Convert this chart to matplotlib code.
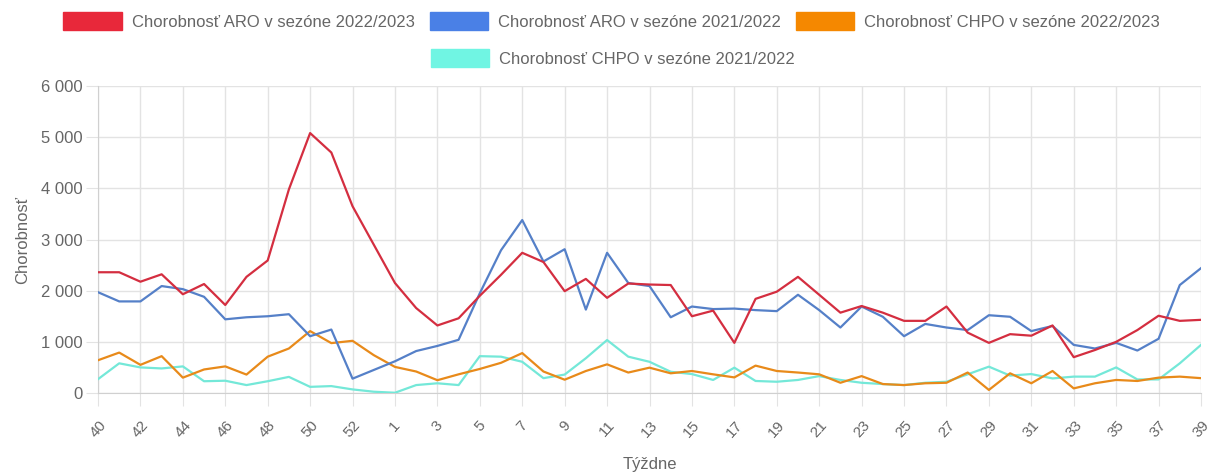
import matplotlib
matplotlib.use('Agg')
import matplotlib.pyplot as plt
from matplotlib.patches import Patch
from matplotlib.ticker import FuncFormatter

plt.rcParams['font.family'] = ['Liberation Sans', 'DejaVu Sans']

# týždne sezóny (40 .. 53, 1 .. 39)
weeks = [str(w) for w in list(range(40, 54)) + list(range(1, 40))]

aro_2223 = [2360, 2360, 2175, 2320, 1930, 2130, 1720, 2270, 2590, 3980,
            5080, 4700, 3650, 2900, 2150, 1660, 1320, 1460, 1900, 2310,
            2740, 2560, 1990, 2230, 1860, 2140, 2120, 2110, 1500, 1610,
            980, 1840, 1980, 2270, 1920, 1570, 1700, 1570, 1410, 1410,
            1690, 1180, 980, 1150, 1120, 1320, 700, 840, 1000, 1230,
            1510, 1410, 1430]
aro_2122 = [1970, 1790, 1790, 2090, 2030, 1880, 1440, 1480, 1500, 1540,
            1110, 1240, 280, 450, 620, 820, 920, 1040, 1950, 2790,
            3380, 2570, 2810, 1630, 2740, 2150, 2090, 1480, 1690, 1640,
            1650, 1620, 1600, 1920, 1620, 1280, 1690, 1490, 1110, 1350,
            1280, 1230, 1520, 1490, 1210, 1310, 940, 870, 980, 830,
            1060, 2110, 2440]
chpo_2223 = [640, 790, 550, 720, 300, 460, 520, 360, 710, 870,
             1210, 975, 1020, 740, 510, 420, 250, 365, 470, 590,
             780, 420, 260, 430, 560, 400, 495, 385, 430, 365,
             305, 535, 430, 400, 365, 200, 330, 175, 155, 190,
             200, 400, 60, 385, 190, 430, 90, 190, 255, 235,
             300, 320, 290]
chpo_2122 = [270, 580, 500, 480, 520, 230, 240, 155, 230, 315,
             120, 135, 70, 25, 5, 155, 190, 155, 720, 710,
             610, 290, 360, 680, 1035, 710, 610, 415, 370, 255,
             495, 235, 220, 255, 330, 255, 200, 175, 155, 200,
             220, 365, 515, 340, 370, 285, 320, 320, 500, 265,
             265, 580, 940]

labels = ['Chorobnosť ARO v sezóne 2022/2023',
          'Chorobnosť ARO v sezóne 2021/2022',
          'Chorobnosť CHPO v sezóne 2022/2023',
          'Chorobnosť CHPO v sezóne 2021/2022']
line_colors = ['#d42e40', '#5580c8', '#e88a1a', '#74e8d8']
box_colors = ['#e8283a', '#4a80e6', '#f58800', '#70f5e3']
series = [aro_2223, aro_2122, chpo_2223, chpo_2122]

text_c = '#666666'
grid_c = '#e3e3e3'

fig = plt.figure(figsize=(12.11, 4.74), dpi=100)
ax = fig.add_axes([98 / 1211, 1 - 393 / 474, (1201 - 98) / 1211, (393 - 86) / 474])

x = list(range(len(weeks)))
for k, (vals, col, lab) in enumerate(zip(series, line_colors, labels)):
    ax.plot(x, vals, color=col, lw=1.6, zorder=10 - k, label=lab)

ax.set_xlim(0, len(weeks) - 1)
ax.set_ylim(0, 6000)
ax.set_yticks(range(0, 6001, 1000))
ax.yaxis.set_major_formatter(FuncFormatter(lambda v, p: f'{int(v):,}'.replace(',', ' ')))
xt = list(range(0, len(weeks), 2))
ax.set_xticks(xt)
ax.set_xticklabels([weeks[i] for i in xt], rotation=48, ha='center', va='top')

ax.grid(True, color=grid_c, lw=1)
for s in ['top', 'right']:
    ax.spines[s].set_visible(False)
for s in ['left', 'bottom']:
    ax.spines[s].set_color('#d0d0d0')
ax.tick_params(axis='x', length=9, color=grid_c, pad=9, labelsize=11, labelcolor=text_c)
ax.tick_params(axis='y', length=9, color=grid_c, pad=2, labelsize=12, labelcolor=text_c)

ax.set_ylabel('Chorobnosť', fontsize=12, color=text_c, labelpad=8)
ax.set_xlabel('Týždne', fontsize=12, color=text_c, labelpad=12)

handles = [Patch(facecolor=c, edgecolor=c) for c in box_colors]
leg_kw = dict(frameon=False, fontsize=12, handlelength=3.5, handleheight=1.2,
              handletextpad=0.6, columnspacing=0.9, borderpad=0, labelcolor=text_c)
leg1 = fig.legend(handles[:3], labels[:3], ncol=3, loc='center',
                  bbox_to_anchor=(0.505, 1 - 21 / 474), **leg_kw)
leg2 = fig.legend(handles[3:], labels[3:], ncol=1, loc='center',
                  bbox_to_anchor=(0.506, 1 - 58 / 474), **leg_kw)

fig.savefig('out.png', dpi=100, facecolor='white')
